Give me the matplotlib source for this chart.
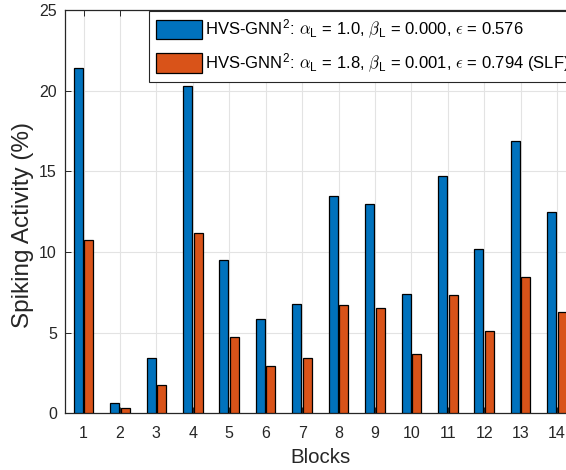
import numpy as np
import matplotlib
matplotlib.use("Agg")
import matplotlib.pyplot as plt

plt.rcParams["font.family"] = ["Liberation Sans", "DejaVu Sans"]
plt.rcParams["mathtext.fontset"] = "cm"

blocks = list(range(1, 15))
act_base = [21.38, 0.66, 3.45, 20.30, 9.49, 5.85, 6.78, 13.44, 13.00, 7.38, 14.70, 10.17, 16.89, 12.50]
act_slf = [10.73, 0.35, 1.74, 11.15, 4.73, 2.93, 3.41, 6.74, 6.51, 3.70, 7.36, 5.09, 8.47, 6.27]

label_base = r"HVS-GNN$^\mathregular{2}$: $\alpha_\mathregular{L}$ = 1.0, $\beta_\mathregular{L}$ = 0.000, $\epsilon$ = 0.576"
label_slf = r"HVS-GNN$^\mathregular{2}$: $\alpha_\mathregular{L}$ = 1.8, $\beta_\mathregular{L}$ = 0.001, $\epsilon$ = 0.794 (SLF)"

blue = "#0072BD"
orange = "#D95319"
ink = "#262626"

fig = plt.figure(figsize=(5.66, 4.70), dpi=100)
ax = fig.add_axes([65.3 / 566, 56.7 / 470, 510 / 566, 403.3 / 470])

x = np.array(blocks, dtype=float)
w = 0.245
ax.bar(x - 0.145, act_base, width=w, color=blue, edgecolor="black", linewidth=0.9,
       label=label_base, zorder=3)
ax.bar(x + 0.145, act_slf, width=w, color=orange, edgecolor="black", linewidth=0.9,
       label=label_slf, zorder=3)

ax.set_xlim(0.5, 14.5)
ax.set_ylim(0, 25)
ax.set_xticks(blocks)
ax.set_yticks([0, 5, 10, 15, 20, 25])
ax.grid(True, color="#e3e3e3", linewidth=0.8, zorder=0)
ax.set_axisbelow(True)

for s in ax.spines.values():
    s.set_color(ink)
    s.set_linewidth(0.9)

ax.tick_params(axis="both", direction="in", length=4, width=0.7, color=ink,
               labelcolor=ink, labelsize=11.5, top=True, right=True)
ax.tick_params(axis="x", pad=9)
ax.tick_params(axis="y", pad=6)

ax.set_xlabel("Blocks", fontsize=14.8, color=ink, labelpad=5)
ax.set_ylabel("Spiking Activity (%)", fontsize=17.5, color=ink)
ax.yaxis.set_label_coords(-0.062, 0.467)

leg = ax.legend(loc="upper left", bbox_to_anchor=(0.1635, 0.9975), borderaxespad=0,
                fontsize=12, handlelength=2.8, handleheight=1.42, handletextpad=0.15,
                labelspacing=0.6, borderpad=0.42, fancybox=False, framealpha=1,
                edgecolor=ink)
leg.get_frame().set_linewidth(0.8)
for t in leg.get_texts():
    t.set_color("black")

fig.savefig("out.png", dpi=100)
